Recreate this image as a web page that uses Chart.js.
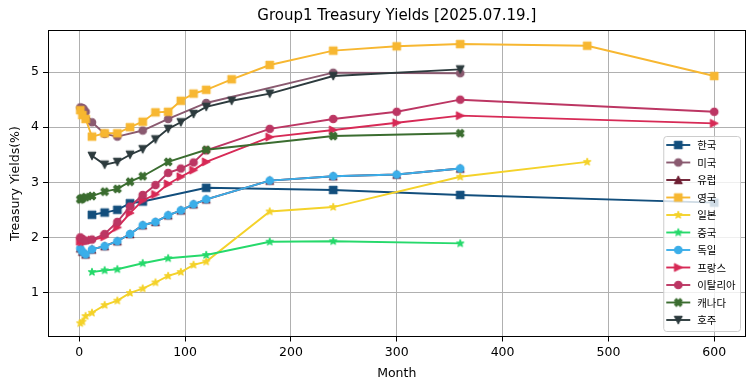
<!DOCTYPE html>
<html>
<head>
<meta charset="utf-8">
<script src="https://cdn.jsdelivr.net/npm/chart.js@4.4.1/dist/chart.umd.min.js"></script>
<style>
  body { margin: 0; background: #fff; }
  canvas { display: block; }
</style>
</head>
<body>
<canvas id="yield-chart" width="755" height="391"></canvas>
<script>
// ---- data ----
const chartTitle = 'Group1 Treasury Yields [2025.07.19.]';
const seriesNames = ['한국', '미국', '유럽', '영국', '일본', '중국', '독일', '프랑스', '이탈리아', '캐나다', '호주'];
const xTicks = [0, 100, 200, 300, 400, 500, 600];
const yTicks = [1, 2, 3, 4, 5];

const krMonths = [12, 24, 36, 48, 60, 120, 240, 360, 600];
const krYields = [2.41, 2.45, 2.50, 2.62, 2.65, 2.90, 2.86, 2.77, 2.63];

const usMonths = [1, 2, 3, 4, 6, 12, 24, 36, 60, 84, 120, 240, 360];
const usYields = [4.36, 4.35, 4.35, 4.33, 4.28, 4.09, 3.88, 3.83, 3.94, 4.15, 4.44, 4.99, 4.98];

const euMonths = [1, 3, 6, 12, 24, 36, 48, 60, 72, 84, 96, 108, 120, 180, 240, 300, 360];
const euYields = [1.80, 1.74, 1.69, 1.78, 1.84, 1.93, 2.06, 2.22, 2.28, 2.40, 2.49, 2.60, 2.69, 3.03, 3.11, 3.14, 3.25];

const ukMonths = [1, 3, 6, 12, 24, 36, 48, 60, 72, 84, 96, 108, 120, 144, 180, 240, 300, 360, 480, 600];
const ukYields = [4.31, 4.22, 4.15, 3.83, 3.89, 3.89, 4.00, 4.10, 4.27, 4.28, 4.48, 4.61, 4.68, 4.87, 5.13, 5.39, 5.47, 5.51, 5.48, 4.93];

const jpMonths = [1, 3, 6, 12, 24, 36, 48, 60, 72, 84, 96, 108, 120, 180, 240, 360, 480];
const jpYields = [0.44, 0.47, 0.57, 0.63, 0.77, 0.85, 0.99, 1.07, 1.18, 1.30, 1.37, 1.50, 1.56, 2.47, 2.55, 3.10, 3.37];

const cnMonths = [12, 24, 36, 60, 84, 120, 180, 240, 360];
const cnYields = [1.37, 1.40, 1.42, 1.53, 1.62, 1.68, 1.92, 1.93, 1.89];

const deMonths = [1, 3, 6, 12, 24, 36, 48, 60, 72, 84, 96, 108, 120, 180, 240, 300, 360];
const deYields = [1.80, 1.74, 1.69, 1.78, 1.84, 1.93, 2.06, 2.22, 2.28, 2.40, 2.49, 2.60, 2.69, 3.03, 3.11, 3.14, 3.25];

const frMonths = [1, 3, 6, 12, 24, 36, 48, 60, 72, 84, 96, 108, 120, 180, 240, 300, 360, 600];
const frYields = [1.93, 1.92, 1.92, 1.95, 2.01, 2.18, 2.44, 2.67, 2.78, 2.97, 3.10, 3.22, 3.37, 3.82, 3.95, 4.08, 4.21, 4.07];

const itMonths = [1, 3, 6, 12, 24, 36, 48, 60, 72, 84, 96, 108, 120, 180, 240, 300, 360, 600];
const itYields = [2.00, 1.97, 1.94, 1.96, 2.06, 2.28, 2.56, 2.77, 2.95, 3.17, 3.25, 3.36, 3.58, 3.97, 4.15, 4.28, 4.50, 4.28];

const caMonths = [1, 2, 3, 6, 12, 24, 36, 48, 60, 84, 120, 240, 360];
const caYields = [2.69, 2.70, 2.71, 2.73, 2.75, 2.83, 2.88, 3.01, 3.11, 3.37, 3.59, 3.84, 3.89];

const auMonths = [12, 24, 36, 48, 60, 72, 84, 96, 108, 120, 144, 180, 240, 360];
const auYields = [3.48, 3.32, 3.37, 3.50, 3.60, 3.78, 3.97, 4.09, 4.24, 4.37, 4.48, 4.61, 4.93, 5.05];

const allMonths = [krMonths, usMonths, euMonths, ukMonths, jpMonths, cnMonths, deMonths, frMonths, itMonths, caMonths, auMonths];
const allYields = [krYields, usYields, euYields, ukYields, jpYields, cnYields, deYields, frYields, itYields, caYields, auYields];

// ---- styles ----
const colors = ['#124e7c', '#8a5a70', '#6e1f33', '#f7b731', '#f4d22a', '#26d96b', '#3baee9', '#d72a56', '#bc3663', '#3b6d30', '#2d3b3e'];
const shapes = ['square', 'circle', 'triUp', 'square', 'star', 'star', 'circle', 'triRight', 'circle', 'xFilled', 'triDown'];
const MS = 7.5;      // marker size px
const LW = 1.9;      // line width px
const FONT = '"DejaVu Sans", sans-serif';
const KFONT = '"Noto Sans CJK KR", "DejaVu Sans", sans-serif';

// markers drawn once into small canvases, used as Chart.js pointStyle
function makeMarker(shape, color) {
    const s = 14;
    const c = document.createElement('canvas');
    c.width = s; c.height = s;
    const g = c.getContext('2d');
    g.translate(s / 2, s / 2);
    g.fillStyle = color;
    g.strokeStyle = color;
    g.lineWidth = 1.2;
    g.lineJoin = 'round';
    const h = MS / 2;
    g.beginPath();
    if (shape === 'square') {
        g.rect(-h, -h, 2 * h, 2 * h);
    } else if (shape === 'circle') {
        g.arc(0, 0, h, 0, Math.PI * 2);
    } else if (shape === 'triUp') {
        g.moveTo(0, -h); g.lineTo(-h, h); g.lineTo(h, h); g.closePath();
    } else if (shape === 'triDown') {
        g.moveTo(0, h); g.lineTo(-h, -h); g.lineTo(h, -h); g.closePath();
    } else if (shape === 'triRight') {
        g.moveTo(h, 0); g.lineTo(-h, -h); g.lineTo(-h, h); g.closePath();
    } else if (shape === 'star') {
        for (let i = 0; i < 10; i++) {
            const r = i % 2 === 0 ? h : h * 0.382;
            const a = -Math.PI / 2 + i * Math.PI / 5;
            const px = r * Math.cos(a), py = r * Math.sin(a);
            if (i === 0) g.moveTo(px, py); else g.lineTo(px, py);
        }
        g.closePath();
    } else if (shape === 'xFilled') {
        const pts = [[-1, -2], [0, -1], [1, -2], [2, -1], [1, 0], [2, 1], [1, 2], [0, 1], [-1, 2], [-2, 1], [-1, 0], [-2, -1]];
        pts.forEach((p, i) => {
            const px = p[0] / 4 * MS, py = p[1] / 4 * MS;
            if (i === 0) g.moveTo(px, py); else g.lineTo(px, py);
        });
        g.closePath();
    }
    g.fill();
    g.stroke();
    return c;
}

const markers = shapes.map((s, i) => makeMarker(s, colors[i]));

const datasets = seriesNames.map((name, i) => ({
    label: name,
    data: allMonths[i].map((m, j) => ({ x: m, y: allYields[i][j] })),
    borderColor: colors[i],
    backgroundColor: colors[i],
    borderWidth: LW,
    pointStyle: markers[i],
    pointRadius: 5,
    pointHoverRadius: 5,
    tension: 0,
    order: 100 - i
}));

// frame, title and matplotlib-like legend drawn over the plot
const overlayPlugin = {
    id: 'overlay',
    afterDatasetsDraw(chart) {
        const { ctx, chartArea: a } = chart;
        ctx.save();
        // frame
        ctx.strokeStyle = '#000';
        ctx.lineWidth = 1;
        const l = Math.round(a.left) + 0.5, t = Math.round(a.top) + 0.5;
        const r = Math.round(a.right) - 0.5, b = Math.round(a.bottom) - 0.5;
        ctx.strokeRect(l, t, r - l, b - t);

        // title
        ctx.fillStyle = '#000';
        ctx.font = '15px ' + FONT;
        ctx.textAlign = 'center';
        ctx.textBaseline = 'alphabetic';
        ctx.fillText(chartTitle, (a.left + a.right) / 2, 20);

        // legend
        ctx.font = '10.4px ' + KFONT;
        let maxW = 0;
        seriesNames.forEach(n => { maxW = Math.max(maxW, ctx.measureText(n).width); });
        const boxW = 34 + maxW + 4.5;
        const rowH = 17.5;
        const boxH = 9 + rowH * (seriesNames.length - 1) + 11;
        const bx = a.right - 6 - boxW;
        const by = a.bottom - 6 - boxH;
        ctx.beginPath();
        ctx.roundRect(bx + 0.5, by + 0.5, boxW, boxH, 3);
        ctx.fillStyle = 'rgba(255,255,255,0.8)';
        ctx.fill();
        ctx.strokeStyle = '#cccccc';
        ctx.stroke();
        ctx.textAlign = 'left';
        ctx.textBaseline = 'middle';
        seriesNames.forEach((n, i) => {
            const cy = by + 9 + i * rowH;
            ctx.strokeStyle = colors[i];
            ctx.lineWidth = LW;
            ctx.beginPath();
            ctx.moveTo(bx + 3, cy);
            ctx.lineTo(bx + 27, cy);
            ctx.stroke();
            const m = markers[i];
            ctx.drawImage(m, bx + 15 - m.width / 2, cy - m.height / 2);
            ctx.fillStyle = '#000';
            ctx.fillText(n, bx + 34, cy + 0.5);
        });
        ctx.restore();
    }
};

const tickFont = { family: FONT, size: 12.5 };

new Chart(document.getElementById('yield-chart').getContext('2d'), {
    type: 'line',
    data: { datasets },
    options: {
        responsive: false,
        animation: false,
        devicePixelRatio: 1,
        layout: { padding: { top: 30.3, right: 9, left: 0, bottom: 0 } },
        plugins: {
            legend: { display: false },
            title: { display: false, text: chartTitle },
            tooltip: { enabled: false }
        },
        scales: {
            x: {
                type: 'linear',
                min: -30,
                max: 630,
                afterBuildTicks: s => { s.ticks = xTicks.map(v => ({ value: v })); },
                afterFit: s => { s.height = 54; },
                grid: { color: '#b0b0b0', lineWidth: 1, tickLength: 4.5, tickColor: '#000', tickWidth: 1 },
                border: { display: false },
                ticks: { color: '#000', font: tickFont, padding: 4, maxRotation: 0, autoSkip: false },
                title: { display: true, text: 'Month', color: '#000', font: tickFont, padding: { top: 0, bottom: 9.5 } }
            },
            y: {
                type: 'linear',
                min: 0.19,
                max: 5.76,
                afterBuildTicks: s => { s.ticks = yTicks.map(v => ({ value: v })); },
                afterFit: s => { s.width = 47.5; },
                grid: { color: '#b0b0b0', lineWidth: 1, tickLength: 4.5, tickColor: '#000', tickWidth: 1 },
                border: { display: false },
                ticks: { color: '#000', font: tickFont, padding: 4, autoSkip: false },
                title: { display: true, text: 'Treasury Yields(%)', color: '#000', font: tickFont, padding: { top: 8.5, bottom: 0 } }
            }
        }
    },
    plugins: [overlayPlugin]
});
</script>
</body>
</html>
